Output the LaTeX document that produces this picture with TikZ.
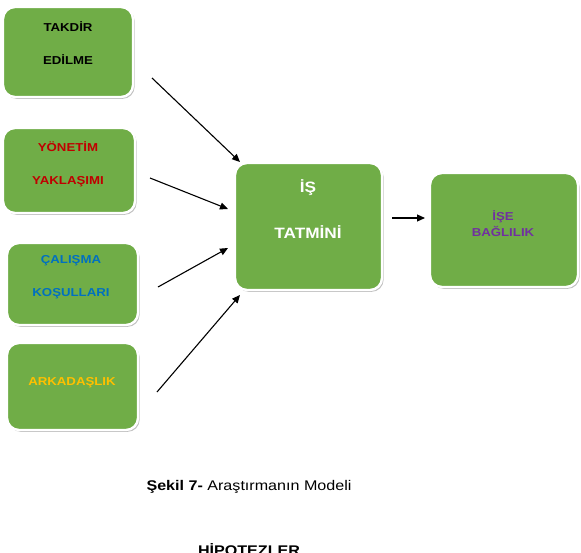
\documentclass[tikz,border=0pt]{standalone}
\usepackage{fontspec}
\setmainfont{Liberation Sans}[FakeStretch=1.15]
\usetikzlibrary{positioning, arrows.meta, shadows}
\definecolor{kutuyesil}{HTML}{70AD47}
\definecolor{koyukirmizi}{HTML}{C00000}
\definecolor{mavi}{HTML}{0070C0}
\definecolor{turuncu}{HTML}{FFC000}
\definecolor{mor}{HTML}{7030A0}
\tikzset{
  kutu/.style={draw=white, line width=2.4pt, fill=kutuyesil, rounded corners=12pt,
    minimum width=#1, inner sep=0pt,
    drop shadow={shadow xshift=1.6pt, shadow yshift=-1.8pt, opacity=0.35, fill=black!70}},
  kutu/.default=130pt,
  yazi/.style={font=\fontsize{11.5}{33}\selectfont\bfseries, align=center, inner sep=0pt},
  ok/.style={line width=1.1pt, -{Triangle[length=8pt, width=7pt]}},
}

\begin{document}
\begin{tikzpicture}[x=1pt, y=-1pt]
\useasboundingbox (0,0) rectangle (581,552);

% ── Etkenler ────────────────────────────────────────────────
\node[kutu=130pt, minimum height=90pt] (takdir) at (68,52) {};
\node[yazi] (takdirY) at (68,43.5) {TAKDİR\\EDİLME};

\node[kutu=132pt, minimum height=85pt] (yonetim) at (69,170.5) {};
\node[yazi, text=koyukirmizi] (yonetimY) at (68,164.5) {YÖNETİM\\YAKLAŞIMI};

\node[kutu=131pt, minimum height=82pt] (calisma) at (72.5,284) {};
\node[yazi, text=mavi] (calismaY) at (71,277.5) {ÇALIŞMA\\KOŞULLARI};

\node[kutu=131pt, minimum height=87pt] (arkadas) at (72.5,386.5) {};
\node[yazi, text=turuncu] (arkadasY) at (72,383) {ARKADAŞLIK};

% ── İş tatmini ve bağlılık ──────────────────────────────────
\node[kutu=147pt, minimum height=127pt] (tatmin) at (308.5,226.5) {};
\node[yazi, text=white, font=\fontsize{15}{46}\selectfont\bfseries] (tatminY) at (308,209) {İŞ\\TATMİNİ};

\node[kutu=148pt, minimum height=114pt] (baglilik) at (504,230) {};
\node[yazi, text=mor, font=\fontsize{11.5}{16}\selectfont\bfseries] (baglilikY) at (503,224) {İŞE\\BAĞLILIK};

% ── Oklar ───────────────────────────────────────────────────
\coordinate (o1) at (152,78);   \coordinate (u1) at (240,162);
\coordinate (o2) at (150,178);  \coordinate (u2) at (228,209);
\coordinate (o3) at (158,287);  \coordinate (u3) at (228,248);
\coordinate (o4) at (157,392);  \coordinate (u4) at (240,295);
\coordinate (o5) at (392,218);  \coordinate (u5) at (425,218);
\foreach \i in {1,...,5}
  \draw[ok] (o\i) -- (u\i);

% ── Başlıklar ───────────────────────────────────────────────
\node[font=\fontsize{14}{16}\selectfont, anchor=base] (sekil) at (249,490) {\textbf{Şekil 7-} Araştırmanın Modeli};
\node[font=\fontsize{14}{16}\selectfont\bfseries, anchor=base] (hipotez) at (249,555) {HİPOTEZLER};

\end{tikzpicture}
\end{document}
